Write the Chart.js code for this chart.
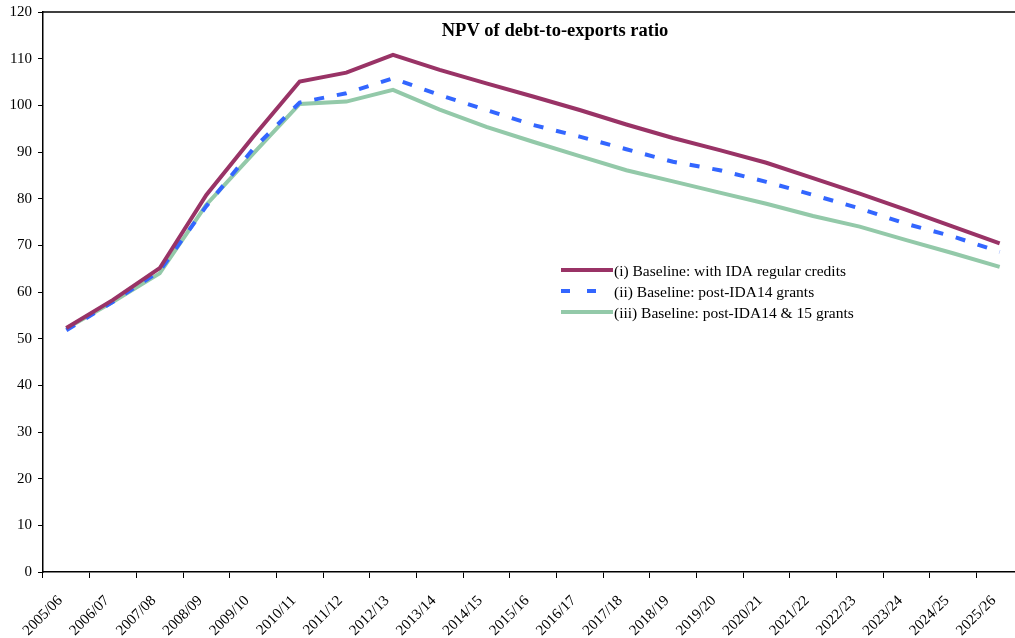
<!DOCTYPE html>
<html>
<head>
<meta charset="utf-8">
<script src="https://cdn.jsdelivr.net/npm/chart.js@4.4.1/dist/chart.umd.min.js"></script>
<style>
    html, body { margin: 0; padding: 0; background: #fff; overflow: hidden; }
    #wrap { position: relative; width: 1026px; height: 638px; }
</style>
</head>
<body>
<div id="wrap"><canvas id="npvChart"></canvas></div>
<script>
// Fiscal years on the x axis
const years = [
    "2005/06", "2006/07", "2007/08", "2008/09", "2009/10", "2010/11", "2011/12",
    "2012/13", "2013/14", "2014/15", "2015/16", "2016/17", "2017/18", "2018/19",
    "2019/20", "2020/21", "2021/22", "2022/23", "2023/24", "2024/25", "2025/26"
];

// NPV of debt-to-exports ratio, per scenario (percent)
const regularCredits = [
    52.3, 58.3, 65.1, 80.8, 93.2, 105.1, 107.0, 110.8, 107.6, 104.7, 101.9,
    99.0, 95.9, 93.0, 90.4, 87.7, 84.4, 81.1, 77.6, 74.0, 70.4
];
const postIda14 = [
    51.8, 57.9, 64.5, 78.4, 90.6, 100.6, 102.6, 105.8, 102.2, 99.0, 95.8,
    93.3, 90.6, 87.9, 86.1, 83.6, 80.8, 77.9, 74.6, 71.9, 68.6
];
const postIda1415 = [
    52.2, 57.9, 64.0, 78.7, 89.6, 100.3, 100.8, 103.3, 99.1, 95.4, 92.2,
    89.1, 86.1, 83.7, 81.3, 78.9, 76.3, 74.0, 71.1, 68.3, 65.4
];

// Y axis range
const yMin = 0;
const yMax = 120;
const yStep = 10;

const chartTitle = "NPV of debt-to-exports ratio";
const seriesNames = [
    "(i) Baseline: with IDA regular credits",
    "(ii) Baseline: post-IDA14 grants",
    "(iii) Baseline: post-IDA14 & 15 grants"
];

const serif = "'Liberation Serif', 'Times New Roman', serif";
Chart.defaults.font.family = serif;
Chart.defaults.color = "#000";

// Title, top frame line and legend are drawn inside the plot area
const insidePlot = {
    id: "insidePlot",
    afterDraw(chart) {
        const ctx = chart.ctx;
        const area = chart.chartArea;
        ctx.save();

        // top border of the plot area
        ctx.strokeStyle = "#000";
        ctx.lineWidth = 1.5;
        ctx.beginPath();
        ctx.moveTo(area.left, area.top);
        ctx.lineTo(area.right, area.top);
        ctx.stroke();

        // title
        ctx.fillStyle = "#000";
        ctx.font = "bold 18.5px " + serif;
        ctx.textAlign = "center";
        ctx.textBaseline = "middle";
        ctx.fillText(chartTitle, 555, 31);

        // legend
        const rows = [270, 291, 312];
        ctx.font = "15.5px " + serif;
        ctx.textAlign = "left";
        chart.data.datasets.forEach((ds, i) => {
            const y = rows[i];
            ctx.strokeStyle = ds.borderColor;
            ctx.lineWidth = ds.borderWidth;
            ctx.setLineDash(ds.legendDash || []);
            ctx.beginPath();
            ctx.moveTo(561, y);
            ctx.lineTo(613, y);
            ctx.stroke();
            ctx.setLineDash([]);
            ctx.fillText(ds.label, 614, y + 2);
        });
        ctx.restore();
    }
};

// keep the plot box fixed regardless of label overhang
function noOverhang(scale) {
    scale.paddingTop = 0;
    scale.paddingBottom = 0;
    scale.paddingLeft = 0;
    scale.paddingRight = 0;
}

const ctx = document.getElementById("npvChart").getContext("2d");
const chart = new Chart(ctx, {
    type: "line",
    data: {
        labels: years,
        datasets: [
            {
                label: seriesNames[0],
                data: regularCredits,
                borderColor: "#993366",
                borderWidth: 4,
                pointRadius: 0,
                tension: 0
            },
            {
                label: seriesNames[1],
                data: postIda14,
                borderColor: "#3366FF",
                borderWidth: 4,
                borderDash: [10, 13],
                legendDash: [9, 17],
                pointRadius: 0,
                tension: 0
            },
            {
                label: seriesNames[2],
                data: postIda1415,
                borderColor: "#93C9A9",
                borderWidth: 4,
                pointRadius: 0,
                tension: 0
            }
        ]
    },
    options: {
        responsive: true,
        maintainAspectRatio: false,
        animation: false,
        layout: { padding: { top: 12, right: 3, left: 0, bottom: 0 } },
        plugins: {
            legend: { display: false },
            title: { display: false },
            tooltip: { enabled: false }
        },
        scales: {
            x: {
                offset: true,
                afterFit: (scale) => { scale.height = 66; noOverhang(scale); },
                grid: {
                    offset: true,
                    drawOnChartArea: false,
                    tickLength: 6,
                    tickColor: "#000",
                    tickWidth: 1
                },
                border: { color: "#000", width: 1.5 },
                ticks: {
                    autoSkip: false,
                    minRotation: 45,
                    maxRotation: 45,
                    labelOffset: -6,
                    padding: 14,
                    font: { size: 15 }
                }
            },
            y: {
                min: yMin,
                max: yMax,
                afterFit: (scale) => { scale.width = 43; noOverhang(scale); },
                grid: {
                    drawOnChartArea: false,
                    tickLength: 5,
                    tickColor: "#000",
                    tickWidth: 1
                },
                border: { color: "#000", width: 1.5 },
                ticks: {
                    stepSize: yStep,
                    padding: 6,
                    font: { size: 15 }
                }
            }
        }
    },
    plugins: [insidePlot]
});
</script>
</body>
</html>
